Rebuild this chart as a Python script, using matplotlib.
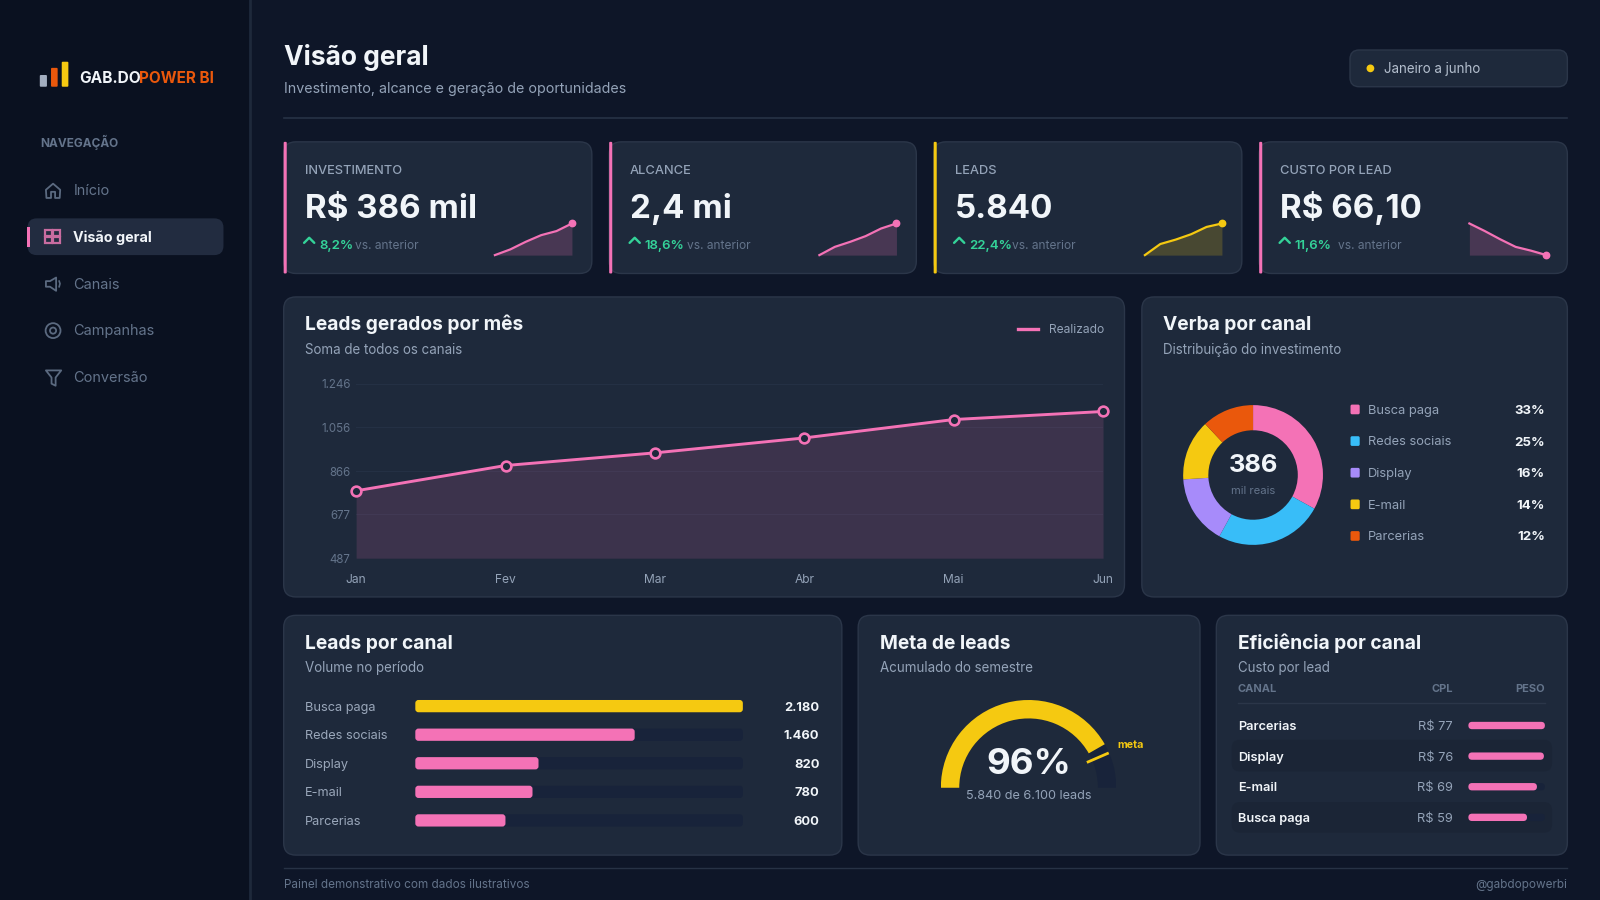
import math
import matplotlib
matplotlib.use('Agg')
import matplotlib.pyplot as plt
from matplotlib.patches import FancyBboxPatch, Rectangle, Wedge, Circle, Polygon

plt.rcParams['font.family'] = ['Inter', 'DejaVu Sans']

# dados
kpi_labels = ['INVESTIMENTO', 'ALCANCE', 'LEADS', 'CUSTO POR LEAD']
kpi_values = ['R$ 386 mil', '2,4 mi', '5.840', 'R$ 66,10']
kpi_deltas = ['8,2%', '18,6%', '22,4%', '11,6%']
spark_inv = [0, 0.18, 0.42, 0.63, 0.76, 1]
spark_alc = [0, 0.26, 0.42, 0.60, 0.84, 1]
spark_lea = [0, 0.35, 0.49, 0.66, 0.89, 1]
spark_cpl = [1, 0.76, 0.50, 0.26, 0.14, 0]

meses = ['Jan', 'Fev', 'Mar', 'Abr', 'Mai', 'Jun']
leads_mes = [780, 890, 945, 1010, 1090, 1125]
y_ticks = [487, 677, 866, 1056, 1246]
y_labels = ['487', '677', '866', '1.056', '1.246']

canais_verba = ['Busca paga', 'Redes sociais', 'Display', 'E-mail', 'Parcerias']
verba = [33, 25, 16, 14, 12]

canais_leads = ['Busca paga', 'Redes sociais', 'Display', 'E-mail', 'Parcerias']
leads_canal = [2180, 1460, 820, 780, 600]

meta_valor = 96
meta_alvo = 100
meta_max = 115

canais_cpl = ['Parcerias', 'Display', 'E-mail', 'Busca paga']
cpl = [77, 76, 69, 59]

nav_items = ['Início', 'Visão geral', 'Canais', 'Campanhas', 'Conversão']

# cores
BG = '#0e1628'
SIDE = '#0a1120'
CARD = '#1e293b'
BORDER = '#2b3649'
PINK = '#f472b6'
YELLOW = '#f5c911'
BLUE = '#38bdf8'
PURPLE = '#a78bfa'
ORANGE = '#ea580c'
GREEN = '#34d399'
WHITE = '#f1f5f9'
MUTED = '#94a3b8'
DIM = '#64748b'
TRACK = '#18233a'

W, H = 1568, 882
PX = 0.72 * 1600 / W

fig = plt.figure(figsize=(16, 9), dpi=100, facecolor=BG)

bg = fig.add_axes([0, 0, 1, 1], zorder=0)
bg.set_xlim(0, W)
bg.set_ylim(H, 0)
bg.axis('off')
top = fig.add_axes([0, 0, 1, 1], zorder=10)
top.set_xlim(0, W)
top.set_ylim(H, 0)
top.axis('off')
top.patch.set_alpha(0)


def txt(x, y, s, size, color=WHITE, weight='normal', ha='left'):
    # y e o centro da altura de maiuscula
    top.text(x, y + 0.36 * size, s, fontsize=size * PX, color=color, fontweight=weight, ha=ha, va='baseline')


def box(x0, y0, x1, y1, color=CARD, edge=BORDER, r=12, ax=bg, z=1):
    p = FancyBboxPatch((x0 + r, y0 + r), x1 - x0 - 2 * r, y1 - y0 - 2 * r,
                       boxstyle='round,pad=%f,rounding_size=%f' % (r, r),
                       fc=color, ec=edge, lw=1, zorder=z)
    ax.add_patch(p)


def sub_axes(x0, y0, x1, y1):
    a = fig.add_axes([x0 / W, 1 - y1 / H, (x1 - x0) / W, (y1 - y0) / H], zorder=5)
    a.patch.set_alpha(0)
    return a


def pill(ax, left, y, width, height, color, z=3, radius=None):
    # barra arredondada nas escalas do proprio eixo; radius em unidades de y
    bb = ax.get_window_extent()
    xpp = abs(ax.get_xlim()[1] - ax.get_xlim()[0]) / bb.width
    ypp = abs(ax.get_ylim()[1] - ax.get_ylim()[0]) / bb.height
    if radius is None:
        radius = height / 2
    r = radius / ypp * xpp
    p = FancyBboxPatch((left, y - height / 2), width, height,
                       boxstyle='round,pad=0,rounding_size=%f' % r,
                       mutation_aspect=ypp / xpp, fc=color, ec='none', zorder=z)
    ax.add_patch(p)


# barra lateral
bg.add_patch(Rectangle((0, 0), 245, H, fc=SIDE, ec='none', zorder=1))
bg.plot([245, 245], [0, H], color='#1e293b', lw=2, zorder=2)

bg.add_patch(FancyBboxPatch((39, 73.5), 7, 11.5, boxstyle='round,pad=0,rounding_size=1', fc='#a3aec0', ec='none', zorder=3))
bg.add_patch(FancyBboxPatch((50, 66.5), 6.5, 18.5, boxstyle='round,pad=0,rounding_size=1', fc=ORANGE, ec='none', zorder=3))
bg.add_patch(FancyBboxPatch((60.5, 60.5), 6.5, 24.5, boxstyle='round,pad=0,rounding_size=1', fc=YELLOW, ec='none', zorder=3))
txt(78, 76, 'GAB.DO', 15.2, WHITE, 'bold')
txt(136, 76, 'POWER BI', 15, ORANGE, 'bold')
txt(39, 140, 'NAVEGAÇÃO', 11.6, DIM, 'bold')

box(27, 214, 219, 250, color='#222c40', edge='none', r=9)
bg.add_patch(Rectangle((26.5, 222), 2.5, 20, fc=PINK, ec='none', zorder=3))
nav_y = [186, 232, 278, 323.5, 369]
for i, (nome, ny) in enumerate(zip(nav_items, nav_y)):
    if i == 1:
        txt(72, ny, nome, 14, WHITE, 'bold')
    else:
        txt(72, ny, nome, 14.2, DIM)

ICON = '#5b6a80'
ik = dict(fc='none', ec=ICON, lw=1.3, zorder=4, joinstyle='round')
bg.add_patch(Polygon([(45, 186), (52, 180), (59, 186), (58.5, 194), (54, 194), (54, 188), (50, 188), (50, 194), (45.5, 194)], closed=True, **ik))
for qx, qy in [(44.5, 225), (52, 225), (44.5, 232.5), (52, 232.5)]:
    bg.add_patch(Rectangle((qx, qy), 6.5, 6, fc='none', ec='#c86ca0', lw=1.6, zorder=4))
bg.add_patch(Polygon([(45, 275.5), (49, 275.5), (55, 272), (55, 285), (49, 281), (45, 281)], closed=True, **ik))
bg.plot([58, 58.8, 58], [275.5, 278, 281], color=ICON, lw=1.2, zorder=4)
bg.add_patch(Circle((52, 324), 7.3, **ik))
bg.add_patch(Circle((52, 324), 3, **ik))
bg.add_patch(Polygon([(45, 363), (60, 363), (54.5, 370), (54.5, 378), (50.5, 376), (50.5, 370)], closed=True, **ik))

# cabecalho
txt(278, 54.5, 'Visão geral', 25.8, WHITE, 'bold')
txt(278, 86.5, 'Investimento, alcance e geração de oportunidades', 14, MUTED)
bg.plot([278, 1536], [116, 116], color='#273245', lw=1.2, zorder=1)
box(1323, 49, 1536, 85, color=CARD, edge=BORDER, r=9)
bg.add_patch(Circle((1343, 67), 3.8, fc=YELLOW, ec='none', zorder=3))
txt(1356, 67, 'Janeiro a junho', 13.1, '#b4bfce')

# cards de KPI
kpi_x = [278, 597, 915, 1234]
kpi_w = [302, 301, 302, 302]
kpi_cor = [PINK, PINK, YELLOW, PINK]
spark_x = [485, 803, 1122, 1440]
sparks = [spark_inv, spark_alc, spark_lea, spark_cpl]
delta_x = [313, 632, 950, 1269]
vs_x = [348, 673, 992, 1311]
for i in range(4):
    x = kpi_x[i]
    box(x, 139, x + kpi_w[i], 268)
    bg.add_patch(FancyBboxPatch((x, 139), 3, 129, boxstyle='round,pad=0,rounding_size=1', fc=kpi_cor[i], ec='none', zorder=3))
    txt(x + 20.5, 166, kpi_labels[i], 12.6, MUTED, 'medium')
    txt(x + 20.5, 202, kpi_values[i], 32.5, WHITE, 'bold')
    top.plot([x + 20, x + 25, x + 30], [238, 233, 238], color=GREEN, lw=1.7, solid_capstyle='round')
    txt(delta_x[i], 239.5, kpi_deltas[i], 13, GREEN, 'semibold')
    txt(vs_x[i], 239.5, 'vs. anterior', 11.7, DIM)

    a = sub_axes(spark_x[i], 219, spark_x[i] + 75.5, 250)
    xs = range(len(sparks[i]))
    a.fill_between(xs, sparks[i], 0, color=kpi_cor[i], alpha=0.2, lw=0)
    a.plot(xs, sparks[i], color=kpi_cor[i], lw=1.6, clip_on=False)
    a.plot([5], [sparks[i][-1]], 'o', color=kpi_cor[i], ms=4.6, clip_on=False)
    a.set_xlim(0, 5)
    a.set_ylim(0, 1)
    a.axis('off')

# linha: leads por mes
box(278, 291, 1102, 585)
txt(299, 317, 'Leads gerados por mês', 18.8, WHITE, 'bold')
txt(299, 342, 'Soma de todos os canais', 13.1, MUTED)
top.plot([998, 1017], [322.5, 322.5], color=PINK, lw=2.4)
txt(1028, 322.5, 'Realizado', 11.8, MUTED)

ax = sub_axes(349, 376, 1081, 547)
xm = list(range(len(meses)))
ax.fill_between(xm, leads_mes, y_ticks[0], color=PINK, alpha=0.14, lw=0)
ax.plot(xm, leads_mes, color=PINK, lw=2.1, marker='o', ms=7, mfc=CARD, mec=PINK, mew=1.9, clip_on=False, zorder=4)
ax.set_xlim(0, 5)
ax.set_ylim(y_ticks[0], y_ticks[-1])
ax.set_xticks(xm)
ax.set_xticklabels(meses)
ax.set_yticks(y_ticks)
ax.set_yticklabels(y_labels)
ax.tick_params(length=0)
ax.tick_params(axis='x', pad=11.4, labelsize=11.8 * PX, labelcolor=MUTED)
ax.tick_params(axis='y', pad=4, labelsize=11.3 * PX, labelcolor=DIM)
ax.grid(axis='y', color='#243044', lw=0.8)
ax.set_axisbelow(True)
for s in ax.spines.values():
    s.set_visible(False)

# rosca: verba por canal
box(1119, 291, 1536, 585)
txt(1140, 317, 'Verba por canal', 18.8, WHITE, 'bold')
txt(1140, 342, 'Distribuição do investimento', 13.1, MUTED)
cores_verba = [PINK, BLUE, PURPLE, YELLOW, ORANGE]
ax = sub_axes(1159.5, 397, 1296.5, 534)
ax.pie(verba, colors=cores_verba, startangle=90, counterclock=False, radius=1,
       wedgeprops=dict(width=0.36, edgecolor='none'))
ax.set_xlim(-1, 1)
ax.set_ylim(-1, 1)
txt(1228, 454, '386', 25, WHITE, 'bold', ha='center')
txt(1228, 480, 'mil reais', 11, DIM, ha='center')
leg_y = [401, 432, 463, 494, 525]
for nome, v, c, ly in zip(canais_verba, verba, cores_verba, leg_y):
    bg.add_patch(FancyBboxPatch((1323.5, ly - 4.5), 9, 9.5, boxstyle='round,pad=0,rounding_size=1.5', fc=c, ec='none', zorder=3))
    txt(1341, ly, nome, 12.6, MUTED)
    txt(1514, ly, '%d%%' % v, 13, WHITE, 'bold', ha='right')

# barras: leads por canal
box(278, 603, 825, 838)
txt(299, 629, 'Leads por canal', 18.8, WHITE, 'bold')
txt(299, 654, 'Volume no período', 13.1, MUTED)
row_y = [692, 720, 748, 776, 804]
ax = sub_axes(407, 678, 728, 818)
ax.set_xlim(0, max(leads_canal))
ax.set_ylim(4.5, -0.5)
ax.axis('off')
for i, (nome, v) in enumerate(zip(canais_leads, leads_canal)):
    pill(ax, 0, i, max(leads_canal), 0.43, TRACK, z=2, radius=0.11)
    pill(ax, 0, i, v, 0.43, YELLOW if i == 0 else PINK, radius=0.11)
    txt(299, row_y[i], nome, 12.5, '#9aa7ba')
    txt(803, row_y[i], '{:,}'.format(v).replace(',', '.'), 12.6, WHITE, 'bold', ha='right')

# medidor: meta de leads
box(841, 603, 1176, 838)
txt(862, 629, 'Meta de leads', 18.8, WHITE, 'bold')
txt(862, 654, 'Acumulado do semestre', 13.1, MUTED)
ax = sub_axes(922, 686, 1094, 772)
ax.set_xlim(-1, 1)
ax.set_ylim(0, 1)
ax.axis('off')
ang_valor = 180 * (1 - meta_valor / meta_max)
ang_alvo = 180 * (1 - meta_alvo / meta_max)
ax.add_patch(Wedge((0, 0), 1, 0, ang_valor, width=0.21, fc=TRACK, ec='none'))
ax.add_patch(Wedge((0, 0), 1, ang_valor, 180, width=0.21, fc=YELLOW, ec='none'))
ca, sa = math.cos(math.radians(ang_alvo)), math.sin(math.radians(ang_alvo))
ax.plot([0.74 * ca, 0.98 * ca], [0.74 * sa, 0.98 * sa], color=YELLOW, lw=2, clip_on=False, zorder=4)
txt(1108, 729, 'meta', 10.5, YELLOW, 'bold', ha='center')
txt(1008, 746, '96%', 36, WHITE, 'bold', ha='center')
txt(1008, 779, '5.840 de 6.100 leads', 12.4, MUTED, ha='center')

# tabela: eficiencia por canal
box(1192, 603, 1536, 838)
txt(1213, 629, 'Eficiência por canal', 18.8, WHITE, 'bold')
txt(1213, 654, 'Custo por lead', 13.1, MUTED)
txt(1213, 674, 'CANAL', 10.8, DIM, 'bold')
txt(1424, 674, 'CPL', 10.8, DIM, 'bold', ha='right')
txt(1514, 674, 'PESO', 10.8, DIM, 'bold', ha='right')
bg.plot([1213, 1514], [689, 689], color='#2b3649', lw=1, zorder=3)
box(1207, 725, 1521, 756, color='#1b2536', edge='none', r=8, z=2)
box(1207, 786, 1521, 816, color='#1b2536', edge='none', r=8, z=2)
tab_y = [711, 741, 771, 801]
ax = sub_axes(1439, 696, 1514, 816)
ax.set_xlim(0, max(cpl))
ax.set_ylim(3.5, -0.5)
ax.axis('off')
for i, (nome, v) in enumerate(zip(canais_cpl, cpl)):
    pill(ax, 0, i, max(cpl), 0.24, TRACK, z=2)
    pill(ax, 0, i, v, 0.24, PINK)
    txt(1213, tab_y[i], nome, 12.5, WHITE, 'semibold')
    txt(1424, tab_y[i], 'R$ %d' % v, 12.6, MUTED, ha='right')

# rodape
bg.plot([278, 1536], [851, 851], color='#273245', lw=1, zorder=1)
txt(278, 866.5, 'Painel demonstrativo com dados ilustrativos', 11.5, DIM)
txt(1536, 866.5, '@gabdopowerbi', 11.5, DIM, ha='right')

fig.savefig('out.png', dpi=100, facecolor=BG)
